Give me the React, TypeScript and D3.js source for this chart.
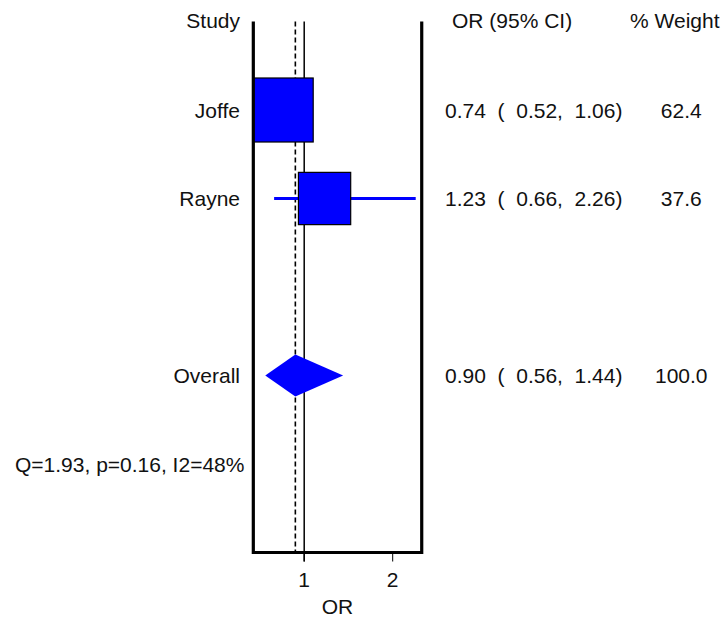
import React from "react";
import * as d3 from "d3";

// ---- data ----
const studies = ["Joffe", "Rayne"];
const orEst = [0.74, 1.23];
const ciLow = [0.52, 0.66];
const ciHigh = [1.06, 2.26];
const weights = [62.4, 37.6];

const overallLabel = "Overall";
const overallEst = 0.9;
const overallLow = 0.56;
const overallHigh = 1.44;
const overallWeight = 100.0;

const heterogeneity = "Q=1.93, p=0.16, I2=48%";
const xTicks = [1, 2];
const xDomain = [0.425, 2.328];
const headers = { study: "Study", or: "OR (95% CI)", weight: "% Weight", axis: "OR" };

const W = 727;
const H = 621;
const FONT = "'Liberation Sans', Arial, Helvetica, sans-serif";
const FS = 21;
const BLUE = "#0000ff";

const fmtCI = (e: number, l: number, h: number) =>
  `${e.toFixed(2)}  (  ${l.toFixed(2)},  ${h.toFixed(2)})`;
const fmtW = (w: number) => w.toFixed(1).padStart(5, " ");

export default function App() {
  const x = d3.scaleLinear().domain([1, 2]).range([304.2, 392.7]);
  const y = d3.scaleLinear().domain([-1, 5]).range([21.5, 552.5]);
  const size = d3.scalePow().exponent(0.4).domain([0, 100]).range([0, 77.3]);

  const left = x(xDomain[0]);
  const right = x(xDomain[1]);
  const top = y(-1);
  const bottom = y(5);

  const rows = studies.map((s, i) => ({
    s,
    i,
    est: orEst[i],
    lo: ciLow[i],
    hi: ciHigh[i],
    w: weights[i],
  }));
  const overallRow = 3;
  const hetRow = 4;
  const base = 7.5;

  const diamond = d3.line()([
    [x(overallLow), y(overallRow)],
    [x(overallEst), y(overallRow) - 21],
    [x(overallHigh), y(overallRow)],
    [x(overallEst), y(overallRow) + 21],
  ]) + "Z";

  const textStyle = { whiteSpace: "pre" as const };

  return (
    <svg
      width={W}
      height={H}
      style={{ position: "absolute", left: 0, top: 0, background: "#fff" }}
      fontFamily={FONT}
      fontSize={FS}
    >
      <defs>
        <clipPath id="plotclip">
          <rect x={left} y={top} width={right - left} height={bottom - top} />
        </clipPath>
      </defs>
      <rect x={0} y={0} width={W} height={H} fill="#fff" />

      {/* headers */}
      <text x={240} y={top + 6} textAnchor="end" fill="#111">{headers.study}</text>
      <text x={452} y={top + 6} fill="#111">{headers.or}</text>
      <text x={630} y={top + 6} fill="#111">{headers.weight}</text>

      {/* reference lines */}
      <line x1={x(1)} x2={x(1)} y1={top} y2={bottom + 9} stroke="#000" strokeWidth={1.5} />
      <line
        x1={x(overallEst)}
        x2={x(overallEst)}
        y1={top}
        y2={bottom}
        stroke="#000"
        strokeWidth={1.6}
        strokeDasharray="5,3"
      />

      {/* study rows */}
      <g clipPath="url(#plotclip)">
        {rows.map((r) => {
          const s = size(r.w);
          return (
            <g key={r.s}>
              <line
                x1={x(r.lo)}
                x2={x(r.hi)}
                y1={y(r.i)}
                y2={y(r.i)}
                stroke={BLUE}
                strokeWidth={3}
              />
              <rect
                x={x(r.est) - s / 2}
                y={y(r.i) - s / 2}
                width={s}
                height={s}
                fill={BLUE}
                stroke="#000"
                strokeWidth={1.2}
              />
            </g>
          );
        })}
        <path d={diamond} fill={BLUE} />
      </g>

      {rows.map((r) => (
        <g key={"t" + r.s}>
          <text x={240} y={y(r.i) + base} textAnchor="end" fill="#111">{r.s}</text>
          <text x={445} y={y(r.i) + base} fill="#111" style={textStyle}>
            {fmtCI(r.est, r.lo, r.hi)}
          </text>
          <text x={655} y={y(r.i) + base} fill="#111" style={textStyle}>
            {fmtW(r.w)}
          </text>
        </g>
      ))}

      <text x={240} y={y(overallRow) + base} textAnchor="end" fill="#111">{overallLabel}</text>
      <text x={445} y={y(overallRow) + base} fill="#111" style={textStyle}>
        {fmtCI(overallEst, overallLow, overallHigh)}
      </text>
      <text x={655} y={y(overallRow) + base} fill="#111" style={textStyle}>
        {fmtW(overallWeight)}
      </text>

      <text x={15} y={y(hetRow) + base} fill="#111">{heterogeneity}</text>

      {/* frame: left, right, bottom */}
      <path
        d={`M${left},${top}V${bottom}H${right}V${top}`}
        fill="none"
        stroke="#000"
        strokeWidth={3.2}
      />

      {/* axis ticks */}
      {xTicks.map((t) => (
        <g key={"tick" + t}>
          <line x1={x(t)} x2={x(t)} y1={bottom} y2={bottom + 9} stroke="#000" strokeWidth={1} />
          <text x={x(t)} y={587} textAnchor="middle" fill="#111">{t}</text>
        </g>
      ))}
      <text x={(left + right) / 2} y={614} textAnchor="middle" fill="#111">{headers.axis}</text>
    </svg>
  );
}
